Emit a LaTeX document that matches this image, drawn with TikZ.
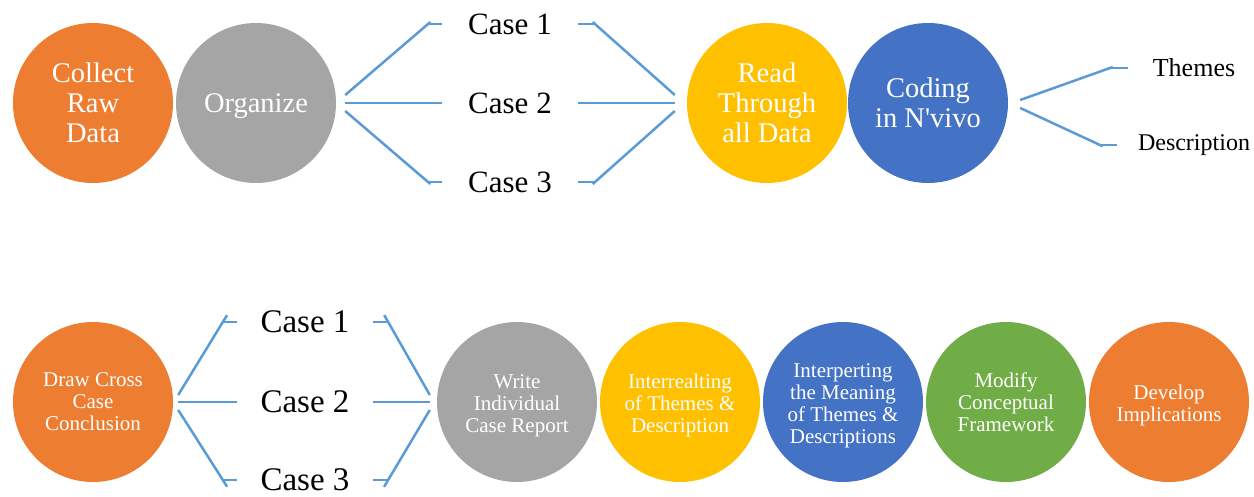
\documentclass[tikz,border=0pt]{standalone}
\usepackage{fontspec}
\setmainfont{Liberation Serif}
% same face without the TeX quote mapping, for a straight apostrophe
\newfontfamily\plainserif{Liberation Serif}
\usetikzlibrary{calc}
\definecolor{cOrange}{HTML}{ED7D31}
\definecolor{cGray}{HTML}{A5A5A5}
\definecolor{cYellow}{HTML}{FFC000}
\definecolor{cBlue}{HTML}{4472C4}
\definecolor{cGreen}{HTML}{70AD47}
\definecolor{cLine}{HTML}{5B9BD5}
\begin{document}
\begin{tikzpicture}[x=1pt,y=-1pt,
  disc/.style={circle,minimum size=160pt,inner sep=0pt,text=white,align=center},
  bigtxt/.style={font=\fontsize{28.5}{30}\selectfont},
  smalltxt/.style={font=\fontsize{21}{22}\selectfont},
  % text set a little lower inside its circle (last line has a descender)
  dlabel/.style={text=white,align=center,inner sep=0pt,yshift=-3.5pt},
  caseA/.style={font=\fontsize{31}{33}\selectfont,inner xsep=26pt,inner ysep=0pt},
  caseB/.style={font=\fontsize{33}{35}\selectfont,inner xsep=23.5pt,inner ysep=0pt},
  leaf/.style={inner sep=0pt},
  link/.style={draw=cLine,line width=2.5pt}]
\useasboundingbox (0,0) rectangle (1254,496);

% ---------- upper row ----------
\node[disc,fill=cOrange,bigtxt] (collect) at (93,103) {Collect\\Raw\\Data};
\node[disc,fill=cGray,label={[dlabel,bigtxt]center:Organize}] (org) at (256,103) {};
\node[disc,fill=cYellow,bigtxt] (read) at (767,103) {Read\\Through\\all Data};
\node[disc,fill=cBlue,bigtxt] (coding) at (928,103) {Coding\\in N{\plainserif '}vivo};

\node[caseA] (t1) at (510,24) {Case 1};
\node[caseA] (t2) at (510,103) {Case 2};
\node[caseA] (t3) at (510,182) {Case 3};

\node[leaf,font=\fontsize{26}{28}\selectfont] (themes) at (1194,68) {Themes};
\node[leaf,font=\fontsize{24}{26}\selectfont] (desc) at (1194,145) {Description};

% fan out from Organize to the cases
\coordinate (oa) at ($(org.east)+(9,-8)$);
\coordinate (ob) at ($(org.east)+(9,8)$);
\coordinate (e1) at ($(t1.west)+(-14,0)$);
\coordinate (e3) at ($(t3.west)+(-14,0)$);
\draw[link] (oa) -- ($(e1)!-3pt!(oa)$);
\draw[link] (e1) -- (t1.west);
\draw[link] ($(org.east)+(9,0)$) -- (t2.west);
\draw[link] (ob) -- ($(e3)!-3pt!(ob)$);
\draw[link] (e3) -- (t3.west);

% gather the cases into Read Through
\coordinate (ra) at ($(read.west)+(-12,-8)$);
\coordinate (rb) at ($(read.west)+(-12,8)$);
\coordinate (f1) at ($(t1.east)+(17,0)$);
\coordinate (f3) at ($(t3.east)+(17,0)$);
\draw[link] (t1.east) -- (f1);
\draw[link] ($(f1)!-3pt!(ra)$) -- (ra);
\draw[link] (t2.east) -- ($(read.west)+(-12,0)$);
\draw[link] (t3.east) -- (f3);
\draw[link] ($(f3)!-3pt!(rb)$) -- (rb);

% Coding branches
\coordinate (ca) at ($(coding.east)+(12,-3)$);
\coordinate (cb) at ($(coding.east)+(12,5)$);
\coordinate (g1) at (1110,68);
\coordinate (g2) at (1100,145);
\draw[link] (ca) -- ($(g1)!-3pt!(ca)$);
\draw[link] (g1) -- ($(themes.west)+(-25,0)$);
\draw[link] (cb) -- ($(g2)!-3pt!(cb)$);
\draw[link] (g2) -- ($(desc.west)+(-21,0)$);

% ---------- lower row ----------
\node[disc,fill=cOrange,smalltxt] (cross) at (93,402) {Draw Cross\\Case\\Conclusion};
\node[disc,fill=cGray,label={[dlabel,smalltxt]center:Write\\Individual\\Case Report}] (write) at (517,402) {};
\node[disc,fill=cYellow,label={[dlabel,smalltxt]center:Interrealting\\of Themes \&\\Description}] (inter) at (680,402) {};
\node[disc,fill=cBlue,label={[dlabel,smalltxt]center:Interperting\\the Meaning\\of Themes \&\\Descriptions}] (interp) at (843,402) {};
\node[disc,fill=cGreen,smalltxt] (modify) at (1006,402) {Modify\\Conceptual\\Framework};
\node[disc,fill=cOrange,label={[dlabel,smalltxt]center:Develop\\Implications}] (develop) at (1169,402) {};

\node[caseB] (b1) at (305,322) {Case 1};
\node[caseB] (b2) at (305,402) {Case 2};
\node[caseB] (b3) at (305,480) {Case 3};

% fan out from Draw Cross Case Conclusion
\coordinate (xa) at ($(cross.east)+(5,-7)$);
\coordinate (xb) at ($(cross.east)+(5,8)$);
\coordinate (h1) at ($(b1.west)+(-14,0)$);
\coordinate (h3) at ($(b3.west)+(-14,0)$);
\draw[link] (xa) -- ($(h1)!-8pt!(xa)$);
\draw[link] (h1) -- (b1.west);
\draw[link] ($(cross.east)+(5,0)$) -- (b2.west);
\draw[link] (xb) -- ($(h3)!-8pt!(xb)$);
\draw[link] (h3) -- (b3.west);

% gather into Write Individual Case Report
\coordinate (wa) at ($(write.west)+(-7,-7)$);
\coordinate (wb) at ($(write.west)+(-7,8)$);
\coordinate (k1) at ($(b1.east)+(15,0)$);
\coordinate (k3) at ($(b3.east)+(15,0)$);
\draw[link] (b1.east) -- (k1);
\draw[link] ($(k1)!-8pt!(wa)$) -- (wa);
\draw[link] (b2.east) -- ($(write.west)+(-7,0)$);
\draw[link] (b3.east) -- (k3);
\draw[link] ($(k3)!-8pt!(wb)$) -- (wb);
\end{tikzpicture}
\end{document}
